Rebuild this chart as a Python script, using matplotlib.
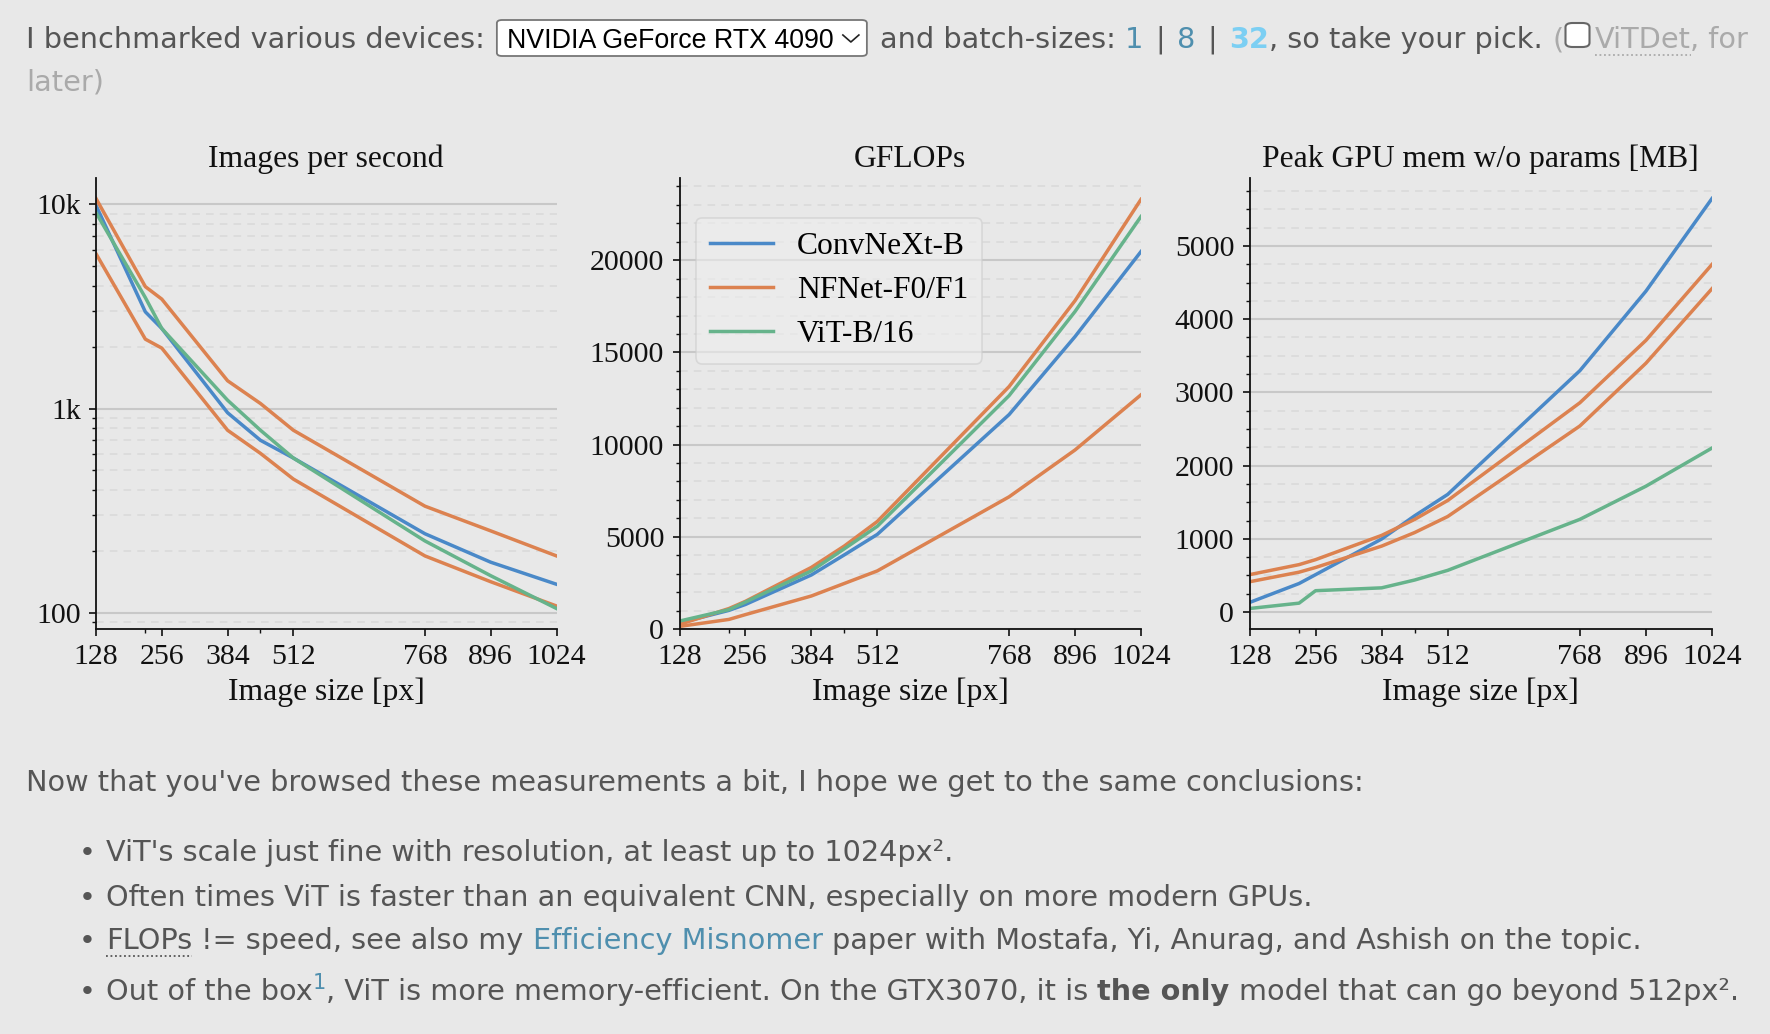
import matplotlib
matplotlib.use("Agg")
import matplotlib.pyplot as plt
from matplotlib.ticker import FixedLocator, FuncFormatter, MultipleLocator, LogLocator, NullFormatter
from matplotlib.patches import FancyBboxPatch
from matplotlib.lines import Line2D

W, H = 1770, 1034
BG = "#e8e8e8"
TXT = "#555555"
LINK = "#4f8fae"
SERIF = ["Liberation Serif", "DejaVu Serif"]
SANS = ["DejaVu Sans"]

# image sizes measured (px)
sizes = [128, 224, 256, 384, 448, 512, 768, 896, 1024]
size_ticks = [128, 256, 384, 512, 768, 896, 1024]
size_minor = [224, 448]

# images per second
ips_convnext = [9900, 2980, 2470, 955, 700, 573, 244, 177, 138]
ips_nfnet_f0 = [10700, 3960, 3440, 1370, 1060, 784, 333, 252, 190]
ips_nfnet_f1 = [5740, 2190, 1980, 784, 604, 452, 190, 142, 108]
ips_vit = [9120, 3500, 2470, 1100, 784, 573, 225, 152, 105]

# GFLOPs
gf_convnext = [330, 1010, 1330, 2930, 4020, 5130, 11630, 15860, 20470]
gf_nfnet_f0 = [140, 520, 780, 1790, 2470, 3150, 7170, 9710, 12700]
gf_nfnet_f1 = [250, 1110, 1500, 3340, 4500, 5830, 13150, 17810, 23300]
gf_vit = [430, 1050, 1460, 3150, 4350, 5570, 12660, 17220, 22370]

# peak memory w/o params [MB]
mem_convnext = [131, 390, 511, 998, 1315, 1607, 3296, 4382, 5647]
mem_nfnet_f0 = [414, 545, 609, 901, 1086, 1305, 2541, 3398, 4416]
mem_nfnet_f1 = [511, 648, 716, 1047, 1266, 1524, 2858, 3710, 4747]
mem_vit = [49, 122, 292, 331, 438, 570, 1266, 1719, 2240]

C_BLUE = "#4a89c8"
C_ORANGE = "#dc8250"
C_GREEN = "#66b38b"

fig = plt.figure(figsize=(W / 100, H / 100), dpi=100, facecolor=BG)
renderer = fig.canvas.get_renderer()


def fx(x):
    return x / W


def fy(y):
    return 1 - y / H


def text_w(s, **kw):
    t = fig.text(0, 0, s, **kw)
    w = t.get_window_extent(renderer).width
    t.remove()
    return w


def rich(x, y, runs, size):
    """place text runs one after another on a baseline (pixel coords)"""
    sp = text_w("x x", fontsize=size, family=SANS) - text_w("xx", fontsize=size, family=SANS)
    out = []
    for s, kw in runs:
        kw = dict(kw)
        fs = kw.pop("fontsize", size)
        dy = kw.pop("dy", 0)
        pad = kw.pop("pad", 0)
        lead = len(s) - len(s.lstrip(" "))
        trail = len(s) - len(s.rstrip(" "))
        core = s.strip(" ")
        x += lead * sp + pad
        if core:
            kw.setdefault("color", TXT)
            t = fig.text(fx(x), fy(y - dy), core, fontsize=fs, family=kw.pop("family", SANS),
                         va="baseline", ha="left", **kw)
            w = t.get_window_extent(renderer).width
            out.append((x, x + w))
            x += w
        x += trail * sp + pad
    return x, out


def dotted_under(x0, x1, y, color):
    fig.add_artist(Line2D([fx(x0), fx(x1)], [fy(y), fy(y)], color=color, lw=1.3,
                          ls=(0, (1, 1.5))))


FS = 20.7

# ---- top line with the device dropdown and batch sizes
x, _ = rich(26, 48, [("I benchmarked various devices:", {})], FS)
box_x0 = x + 12
box = FancyBboxPatch((fx(box_x0), fy(56)), fx(370), 36 / H,
                     boxstyle="round,pad=0,rounding_size=0.003",
                     transform=fig.transFigure, facecolor="white", edgecolor="#767676", lw=1.3)
fig.add_artist(box)
fig.text(fx(box_x0 + 10), fy(48), "NVIDIA GeForce RTX 4090", fontsize=19.3, family="Liberation Sans",
         color="black", va="baseline")
cx = box_x0 + 354
fig.add_artist(Line2D([fx(cx - 8), fx(cx), fx(cx + 8)], [fy(35), fy(42), fy(35)],
                      color="#222222", lw=1.2))
x, _ = rich(box_x0 + 374, 48, [
    (" and batch-sizes: ", {}),
    ("1", {"color": LINK}),
    (" | ", {"pad": 3}),
    ("8", {"color": LINK}),
    (" | ", {"pad": 3}),
    ("32", {"color": "#7ccff3", "weight": "bold"}),
    (", so take your pick. ", {}),
    ("(", {"color": "#aaaaaa"}),
], FS)
chk = FancyBboxPatch((fx(x + 2), fy(47)), fx(24), 24 / H,
                     boxstyle="round,pad=0,rounding_size=0.004",
                     transform=fig.transFigure, facecolor="white", edgecolor="#666666", lw=1.5)
fig.add_artist(chk)
x, spans = rich(x + 31, 48, [("ViTDet", {"color": "#aaaaaa"}), (", for", {"color": "#aaaaaa"})], FS)
dotted_under(spans[0][0], spans[0][1], 55, "#aaaaaa")
rich(26, 91, [("later)", {"color": "#aaaaaa"})], FS)

# ---- the three charts
fig_axes = [
    (96, 556.5),
    (679.5, 1141),
    (1249.5, 1712),
]
top, bottom = 178, 629
axes = [fig.add_axes([fx(l), fy(bottom), (r - l) / W, (bottom - top) / H]) for l, r in fig_axes]

TICK_FS = 21.5
LAB_FS = 22.8

panels = [
    ("Images per second", ips_convnext, (ips_nfnet_f0, ips_nfnet_f1), ips_vit),
    ("GFLOPs", gf_convnext, (gf_nfnet_f0, gf_nfnet_f1), gf_vit),
    ("Peak GPU mem w/o params [MB]", mem_convnext, (mem_nfnet_f0, mem_nfnet_f1), mem_vit),
]

for i, (ax, (title, conv, nfs, vit)) in enumerate(zip(axes, panels)):
    ax.set_facecolor("none")
    ax.plot(sizes, conv, color=C_BLUE, lw=2.5, label="ConvNeXt-B")
    ax.plot(sizes, nfs[0], color=C_ORANGE, lw=2.5, label="NFNet-F0/F1")
    ax.plot(sizes, nfs[1], color=C_ORANGE, lw=2.5)
    ax.plot(sizes, vit, color=C_GREEN, lw=2.5, label="ViT-B/16")
    ax.set_xlim(128, 1024)
    ax.xaxis.set_major_locator(FixedLocator(size_ticks))
    ax.xaxis.set_minor_locator(FixedLocator(size_minor))
    ax.xaxis.set_minor_formatter(NullFormatter())
    if i == 0:
        ax.set_yscale("log")
        ax.yaxis.set_major_locator(LogLocator(base=10))
        ax.yaxis.set_minor_locator(LogLocator(base=10, subs=range(2, 10)))
        ax.yaxis.set_minor_formatter(NullFormatter())
        ax.yaxis.set_major_formatter(FuncFormatter(
            lambda v, p: "%dk" % round(v / 1000) if v >= 1000 else "%d" % v))
    elif i == 1:
        ax.set_ylim(bottom=0)
        ax.yaxis.set_major_locator(MultipleLocator(5000))
        ax.yaxis.set_minor_locator(MultipleLocator(1000))
    else:
        ax.yaxis.set_major_locator(MultipleLocator(1000))
        ax.yaxis.set_minor_locator(MultipleLocator(250))
    ax.grid(which="major", axis="y", color="#c8c8c8", lw=1.5)
    ax.grid(which="minor", axis="y", color="#d9d9d9", lw=1.1, ls=(0, (5, 4)))
    ax.set_axisbelow(True)
    for s in ("top", "right"):
        ax.spines[s].set_visible(False)
    for s in ("left", "bottom"):
        ax.spines[s].set_linewidth(1.3)
        ax.spines[s].set_color("#111111")
    ax.tick_params(which="major", length=5, width=1.2, labelsize=TICK_FS, pad=6, colors="#111111")
    ax.tick_params(which="minor", length=3, width=1.0, colors="#111111")
    for lab in ax.get_xticklabels() + ax.get_yticklabels():
        lab.set_family(SERIF)
    ax.set_title(title, fontsize=LAB_FS, family=SERIF, pad=8, color="#111111")
    ax.set_xlabel("Image size [px]", fontsize=LAB_FS, family=SERIF, labelpad=5, color="#111111")

leg = axes[1].legend(loc="upper left", bbox_to_anchor=(0.036, 0.912), borderaxespad=0,
                     prop={"family": SERIF, "size": 22.7}, handlelength=2.0, handletextpad=0.75,
                     labelspacing=0.48, borderpad=0.45, framealpha=0.6, facecolor="#eeeeee",
                     edgecolor="#cccccc", fancybox=True)
leg.get_frame().set_linewidth(1.2)

# ---- conclusions below the charts
rich(26, 791, [("Now that you've browsed these measurements a bit, I hope we get to the same conclusions:", {})], FS)

bullets_y = [861, 906, 949, 1000]
for by in bullets_y:
    fig.text(fx(87), fy(by), "\u2022", fontsize=FS, family=SANS, color=TXT, va="baseline", ha="center")

rich(106, bullets_y[0], [("ViT's scale just fine with resolution, at least up to 1024px\u00b2.", {})], FS)
rich(106, bullets_y[1], [("Often times ViT is faster than an equivalent CNN, especially on more modern GPUs.", {})], FS)
_, spans = rich(106, bullets_y[2], [
    ("FLOPs", {}),
    (" != speed, see also my ", {}),
    ("Efficiency Misnomer", {"color": LINK}),
    (" paper with Mostafa, Yi, Anurag, and Ashish on the topic.", {}),
], FS)
dotted_under(spans[0][0], spans[0][1], bullets_y[2] + 7, TXT)
rich(106, bullets_y[3], [
    ("Out of the box", {}),
    ("1", {"color": LINK, "fontsize": 15, "dy": 11}),
    (", ViT is more memory-efficient. On the GTX3070, it is ", {}),
    ("the only", {"weight": "bold"}),
    (" model that can go beyond 512px\u00b2.", {}),
], FS)

fig.savefig("out.png", dpi=100, facecolor=BG)
